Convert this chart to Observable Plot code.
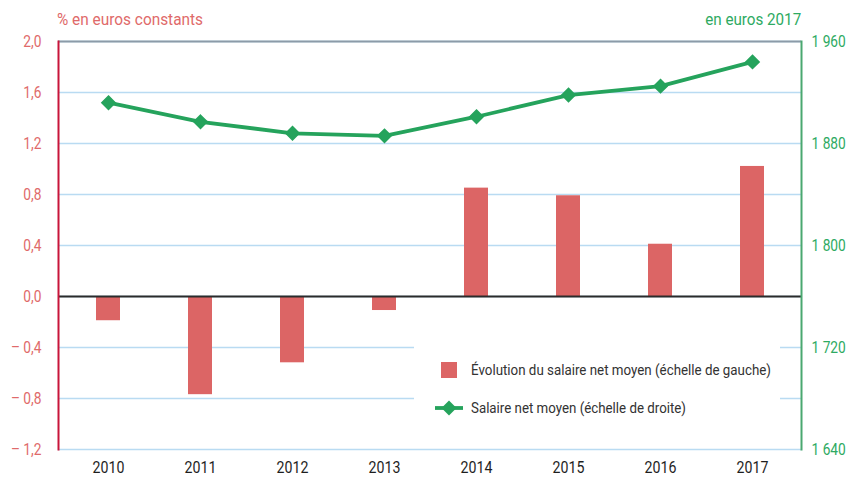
<!DOCTYPE html>
<html><head><meta charset="utf-8">
<script src="https://cdn.jsdelivr.net/npm/d3@7"></script>
<script src="https://cdn.jsdelivr.net/npm/@observablehq/plot@0.6"></script>
<style>
body{margin:0;background:#fff;}
#wrap{position:relative;width:851px;height:479px;font-family:Roboto,"Liberation Sans",sans-serif;}
.ttl{position:absolute;top:10px;font-size:16px;white-space:nowrap;}
#legend{position:absolute;left:414px;top:336px;width:366px;height:82px;background:#fff;font-size:15px;color:#333;}
.li{position:absolute;left:57px;white-space:nowrap;line-height:18px;transform-origin:0 50%;}
</style></head>
<body><div id="wrap"></div>
<script>
const years = ["2010","2011","2012","2013","2014","2015","2016","2017"];
const evolution = [-0.19,-0.77,-0.52,-0.11,0.85,0.79,0.41,1.02];
const salaire = [1912,1897,1888,1886,1901,1918,1925,1944];
const leftTicks = [-1.2,-0.8,-0.4,0,0.4,0.8,1.2,1.6,2.0];
const rightTicks = [1640,1720,1800,1880,1960];
const leftTitle = "% en euros constants";
const rightTitle = "en euros 2017";
const legendBar = "Évolution du salaire net moyen (échelle de gauche)";
const legendLine = "Salaire net moyen (échelle de droite)";

const toLeft = s => (s - 1760) / 100;
const data = years.map((y,i)=>({year:y, evo:evolution[i], sal:salaire[i], salL:toLeft(salaire[i])}));
const fmtL = d => (d < 0 ? "– " : "") + Math.abs(d).toFixed(1).replace(".", ",");
const fmtR = d => { const v = Math.round(1760 + d*100); return String(v).replace(/\B(?=(\d{3})+(?!\d))/g, " "); };

const ff = 'Roboto,"Liberation Sans",sans-serif';
const chart = Plot.plot({
  width: 851, height: 479,
  marginLeft: 58, marginRight: 50, marginTop: 41, marginBottom: 30,
  style: {fontFamily: ff, fontSize: "16px", background: "#fff"},
  x: {domain: years, paddingInner: 0.74, paddingOuter: 0.37, label: null},
  y: {domain: [-1.2, 2.0], label: null},
  marks: [
    Plot.ruleY(leftTicks, {stroke: "#b9dbf2", strokeWidth: 1.5}),
    Plot.ruleY([2.0], {stroke: "#8c9ba8", strokeWidth: 2}),
    Plot.barY(data, {x: "year", y: "evo", fill: "#dc6565"}),
    Plot.ruleY([0], {stroke: "#2b2b2b", strokeWidth: 2}),
    Plot.line(data, {x: "year", y: "salL", stroke: "#25a35c", strokeWidth: 3.8}),
    Plot.dot(data, {x: "year", y: "salL", symbol: "diamond2", r: 6, fill: "#25a35c", stroke: "#25a35c"}),
    Plot.frame({anchor: "left", stroke: "#c8153a", strokeWidth: 2}),
    Plot.frame({anchor: "right", stroke: "#4aa870", strokeWidth: 2}),
    Plot.axisY({anchor: "left", ticks: leftTicks, tickFormat: fmtL, tickSize: 0, tickPadding: 17, color: "#e06a6a", fontSize: 16, label: null}),
    Plot.axisY({anchor: "right", ticks: rightTicks.map(toLeft), tickFormat: fmtR, tickSize: 0, tickPadding: 10, color: "#2eaa62", fontSize: 16, label: null}),
    Plot.axisX({tickSize: 0, tickPadding: 12, color: "#1e1e1e", fontSize: 16.5, label: null})
  ]
});
const wrap = document.getElementById("wrap");
wrap.appendChild(chart);

// condense axis text (narrow font look)
d3.select(chart).selectAll('g[aria-label$="tick label"] text').each(function(){
  const el = d3.select(this);
  const t = el.attr("transform");
  if (t) el.attr("transform", t + " scale(0.86,1)");
  else {
    const x = +el.attr("x") || 0, y = +el.attr("y") || 0;
    el.attr("x", null).attr("y", null).attr("transform", `translate(${x},${y}) scale(0.86,1)`);
  }
});

function fitText(el, target, origin){
  el.style.transformOrigin = origin;
  const w = el.getBoundingClientRect().width;
  el.style.transform = `scaleX(${target / w})`;
}
const t1 = document.createElement("div"); t1.className = "ttl"; t1.style.left = "57px"; t1.style.color = "#e06a6a"; t1.textContent = leftTitle; wrap.appendChild(t1);
const t2 = document.createElement("div"); t2.className = "ttl"; t2.style.right = "50px"; t2.style.color = "#2eaa62"; t2.textContent = rightTitle; wrap.appendChild(t2);
fitText(t1, 146, "0 50%");
fitText(t2, 96, "100% 50%");

const lg = document.createElement("div"); lg.id = "legend";
lg.innerHTML = `<div style="position:absolute;left:27px;top:26px;width:16px;height:16px;background:#dc6565"></div>
<div class="li" id="l1" style="top:25px">${legendBar}</div>
<svg style="position:absolute;left:19px;top:62px" width="32" height="20"><line x1="2" y1="10" x2="30" y2="10" stroke="#25a35c" stroke-width="3.8"/><path d="M16 2.5 L23.5 10 L16 17.5 L8.5 10 Z" fill="#25a35c"/></svg>
<div class="li" id="l2" style="top:63px">${legendLine}</div>`;
wrap.appendChild(lg);
fitText(document.getElementById("l1"), 300, "0 50%");
fitText(document.getElementById("l2"), 215, "0 50%");
</script></body></html>
